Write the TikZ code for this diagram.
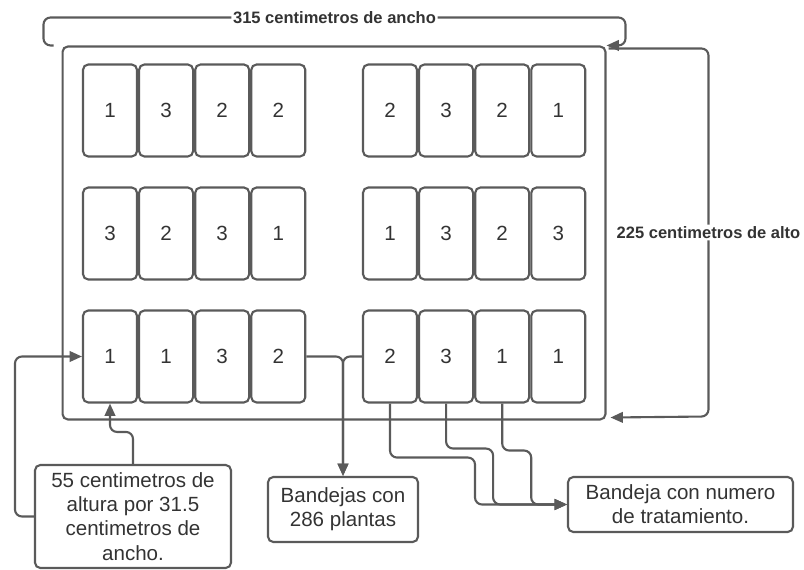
\documentclass[tikz,border=0pt]{standalone}
\usepackage{fontspec}
\setmainfont{Liberation Sans}
\usetikzlibrary{arrows.meta, positioning}
\definecolor{linea}{HTML}{5A5A5A}
\definecolor{texto}{HTML}{333333}
\tikzstyle{marco} = [rectangle, rounded corners=3pt,
minimum width=10.86cm,
minimum height=7.46cm,
draw=linea, line width=1.2pt]
\tikzstyle{bandeja} = [rectangle, rounded corners=3pt,
minimum width=1.08cm,
minimum height=1.84cm,
text=texto, font=\fontsize{11.7}{13.8}\selectfont,
draw=linea, line width=1.2pt]
\tikzstyle{nota} = [rectangle, rounded corners=3pt,
align=center, inner sep=2pt,
text=texto, font=\fontsize{11.7}{13.8}\selectfont,
draw=linea, line width=1.2pt]
\tikzstyle{medida} = [fill=white, inner sep=1pt,
text=texto, font=\fontsize{9.4}{11}\selectfont\bfseries]
\tikzstyle{arrow} = [draw=linea, line width=1.2pt, rounded corners=4pt,
-{Triangle[length=7pt, width=6pt]}]

\begin{document}
\begin{tikzpicture}[x=0.02cm, y=-0.02cm]
        \useasboundingbox (0,0) rectangle (804,570);
        % Marco de la mesa
        \node (marco) [marco] at (334,233) {};

        % Primera fila
        \node (a1) [bandeja] at (110,110.5) {1};
        \node (a2) [bandeja, right=0pt of a1] {3};
        \node (a3) [bandeja, right=0pt of a2] {2};
        \node (a4) [bandeja, right=0pt of a3] {2};
        \node (a5) [bandeja] at (390,110.5) {2};
        \node (a6) [bandeja, right=0pt of a5] {3};
        \node (a7) [bandeja, right=0pt of a6] {2};
        \node (a8) [bandeja, right=0pt of a7] {1};

        % Segunda fila
        \node (b1) [bandeja] at (110,233.5) {3};
        \node (b2) [bandeja, right=0pt of b1] {2};
        \node (b3) [bandeja, right=0pt of b2] {3};
        \node (b4) [bandeja, right=0pt of b3] {1};
        \node (b5) [bandeja] at (390,233.5) {1};
        \node (b6) [bandeja, right=0pt of b5] {3};
        \node (b7) [bandeja, right=0pt of b6] {2};
        \node (b8) [bandeja, right=0pt of b7] {3};

        % Tercera fila
        \node (c1) [bandeja] at (110,356.5) {1};
        \node (c2) [bandeja, right=0pt of c1] {1};
        \node (c3) [bandeja, right=0pt of c2] {3};
        \node (c4) [bandeja, right=0pt of c3] {2};
        \node (c5) [bandeja] at (390,356.5) {2};
        \node (c6) [bandeja, right=0pt of c5] {3};
        \node (c7) [bandeja, right=0pt of c6] {1};
        \node (c8) [bandeja, right=0pt of c7] {1};

        % Notas de abajo
        \node (dims) [nota, minimum width=3.92cm, minimum height=2.06cm] at (133,516.5)
            {55 centimetros de\\altura por 31.5\\centimetros de\\ancho.};
        \node (plantas) [nota, minimum width=3cm, minimum height=1.3cm] at (343,509.5)
            {Bandejas con\\286 plantas};
        \node (trat) [nota, minimum width=4.5cm, minimum height=1.1cm] at (680.5,504.5)
            {Bandeja con numero\\de tratamiento.};

        % --- MEDIDAS ---
        \draw [arrow] ([shift={(-8,0)}]marco.north west) -- ++(-10,0) -- ++(0,-28)
            -- node[medida] {315 centimetros de ancho} ++(582,0) |- (marco.north east);
        \draw [arrow] ([shift={(2,3)}]marco.north east) -- ++(100,0)
            -- node[medida] {225 centimetros de alto} ++(0,368) -- ([shift={(4,-3)}]marco.south east);

        % --- CONEXIONES ---
        \draw [arrow] (dims.west) -- ++(-19,0) |- (c1.west);
        \draw [arrow] (dims.north) -- ++(0,-32) -| (c1.south);
        \draw [arrow] (c4.east) -| (plantas.north);
        \draw [arrow] (c5.west) -| (plantas.north);
        \draw [arrow] (c5.south) -- ++(0,54) -- ++(85,0) |- (trat.west);
        \draw [arrow] (c6.south) -- ++(0,45) -- ++(47,0) |- (trat.west);
        \draw [arrow] (c7.south) -- ++(0,47) -- ++(29,0) |- (trat.west);

    \end{tikzpicture}
\end{document}
